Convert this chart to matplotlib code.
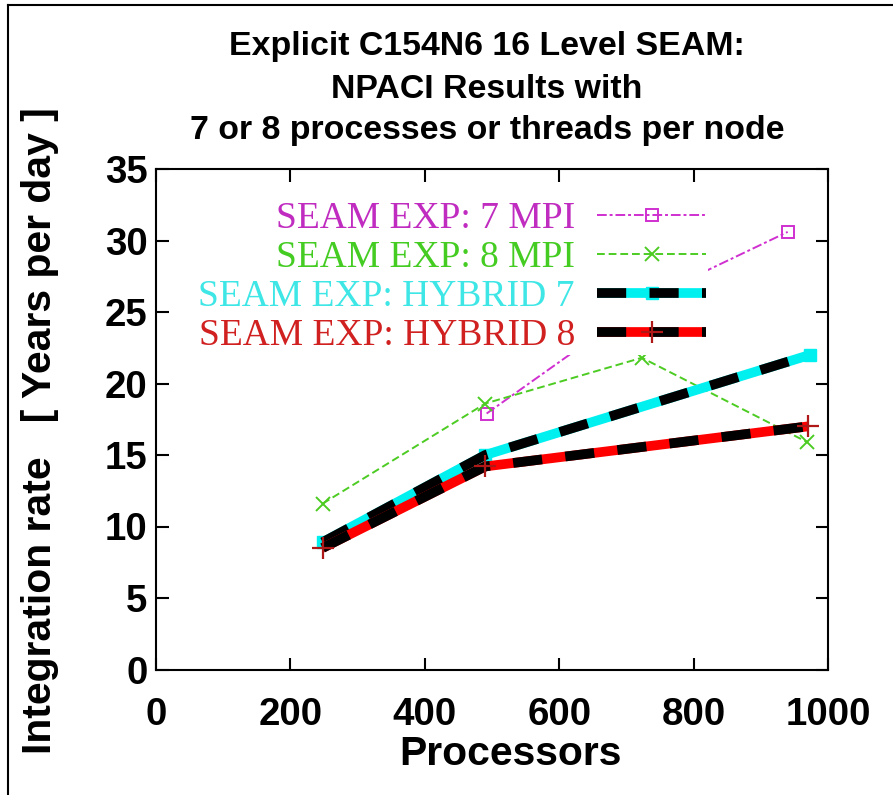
from matplotlib import pyplot as plt
from matplotlib import font_manager
from matplotlib.lines import Line2D
from matplotlib.legend_handler import HandlerTuple

# data
mpi7_x = [492, 735, 940]
mpi7_y = [17.9, 26.0, 30.6]
mpi8_x = [248, 490, 723, 969]
mpi8_y = [11.6, 18.6, 21.8, 15.9]
hyb7_x = [248, 490, 973]
hyb7_y = [8.9, 15.0, 22.0]
hyb8_x = [248, 490, 970]
hyb8_y = [8.5, 14.2, 17.0]

labels = ['SEAM EXP: 7 MPI', 'SEAM EXP: 8 MPI',
          'SEAM EXP: HYBRID 7', 'SEAM EXP: HYBRID 8']
label_colors = ['#c02cc0', '#44cc22', '#3ee6e6', '#d02020']
title_lines = ['Explicit C154N6 16 Level SEAM:',
               'NPACI Results with',
               '7 or 8 processes or threads per node']
xticks = [0, 200, 400, 600, 800, 1000]
yticks = [0, 5, 10, 15, 20, 25, 30, 35]

names = {f.name for f in font_manager.fontManager.ttflist}
if 'Liberation Sans Narrow' in names:
    sans = 'Liberation Sans Narrow'
    k = 1.0
else:
    sans = 'Liberation Sans'
    k = 0.84

fig = plt.figure(figsize=(8.93, 7.95), dpi=100)
ax = fig.add_axes([156/893, 1-669.5/795, 672/893, 500.5/795])

l7, = ax.plot(mpi7_x, mpi7_y, color='#d030d0', lw=1.4, dashes=(5, 1.5, 1.5, 1.5),
              marker='s', mfc='none', mec='#d030d0', ms=8, mew=1.4)
l8, = ax.plot(mpi8_x, mpi8_y, color='#4ccc22', lw=1.4, dashes=(4, 2),
              marker='x', ms=10, mew=1.4)
h7c, = ax.plot(hyb7_x, hyb7_y, color='#00f0f0', lw=7, solid_capstyle='butt',
               marker='s', ms=9, mec='#00f0f0')
h7k, = ax.plot(hyb7_x, hyb7_y, color='black', lw=7, dashes=(3.0, 2.4),
               dash_capstyle='butt')
h8c, = ax.plot(hyb8_x, hyb8_y, color='#ff0000', lw=7, solid_capstyle='butt')
h8k, = ax.plot(hyb8_x, hyb8_y, color='black', lw=7, dashes=(3.0, 2.4),
               dash_capstyle='butt')
h8m, = ax.plot(hyb8_x, hyb8_y, ls='none', marker='+', color='#b01818',
               ms=16, mew=1.6, zorder=3)

ax.set_xlim(0, 1000)
ax.set_ylim(0, 35)
ax.set_xticks(xticks)
ax.set_yticks(yticks)
ax.tick_params(direction='in', length=9, width=1.5, top=True, right=True)
ax.tick_params(axis='x', pad=20)
ax.tick_params(axis='y', pad=6)
for lab in ax.get_xticklabels() + ax.get_yticklabels():
    lab.set_fontfamily(sans)
    lab.set_fontweight('bold')
    lab.set_fontsize(33*k)
for sp in ax.spines.values():
    sp.set_linewidth(1.5)

ax.set_xlabel('Processors', fontfamily=sans, fontweight='bold', fontsize=35*k)
ax.xaxis.set_label_coords(0.527, -0.13)
ax.set_ylabel('Integration rate   [ Years per day ]', fontfamily=sans,
              fontweight='bold', fontsize=35*k)
ax.yaxis.set_label_coords(-0.145, 0.478)

leg = ax.legend([l7, l8, (h7c, h7k), (h8c, h8k, h8m)], labels,
                handler_map={tuple: HandlerTuple(ndivide=1, pad=0)},
                loc='upper right', bbox_to_anchor=((708-156)/672, (669.5-200)/500.5),
                markerfirst=False, handlelength=2.9, handletextpad=0.6,
                labelspacing=0.12, borderpad=0.05, borderaxespad=0,
                prop={'family': 'Liberation Serif', 'size': 27},
                frameon=True, fancybox=False, framealpha=1,
                facecolor='white', edgecolor='none')
for txt, c in zip(leg.get_texts(), label_colors):
    txt.set_color(c)
leg.set_zorder(5)

for i, line in enumerate(title_lines):
    fig.text(487/893, 1-(47+42*i)/795, line, ha='center', va='center',
             fontfamily=sans, fontweight='bold', fontsize=29*k)

# frame around the page
fig.add_artist(Line2D([8/893, 8/893], [0, 1-5/795], color='black', lw=1.5))
fig.add_artist(Line2D([8/893, 1], [1-5/795, 1-5/795], color='black', lw=1.5))

fig.savefig('out.png', dpi=100)
